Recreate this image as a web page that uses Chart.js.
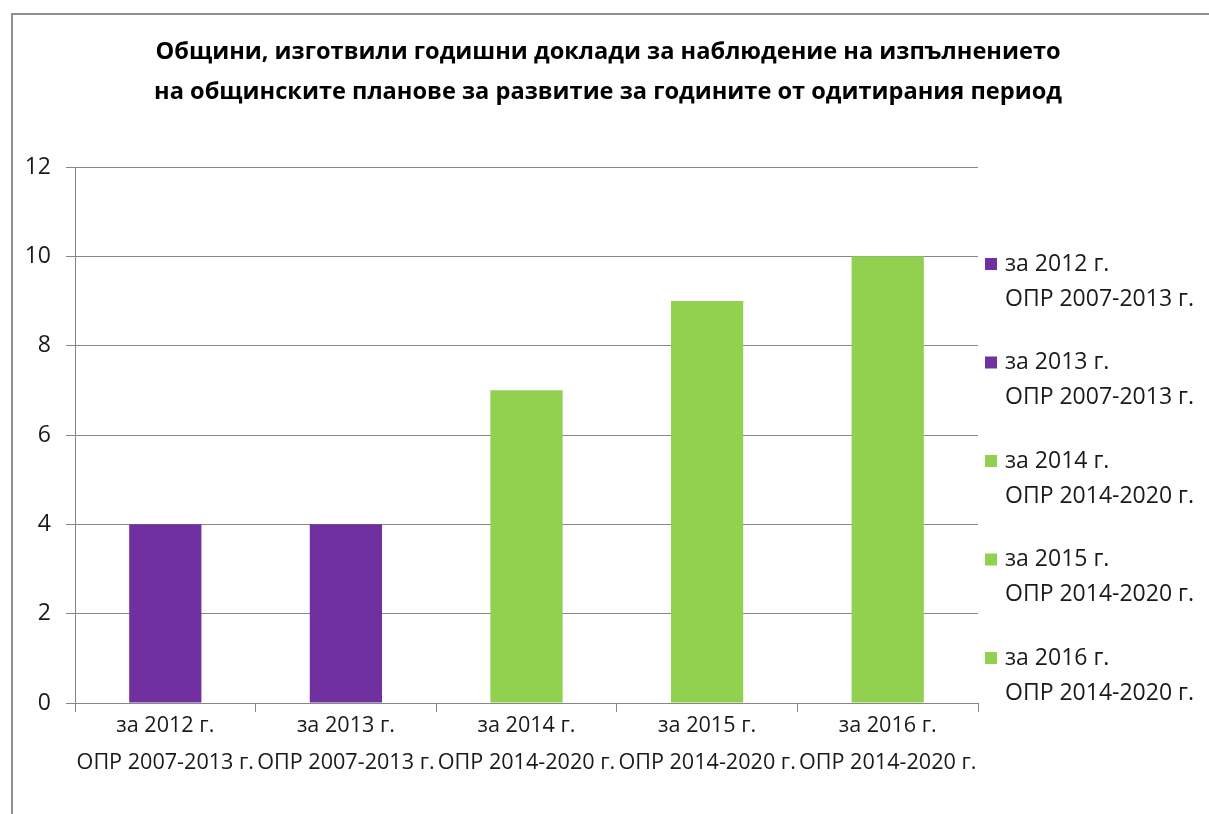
<!DOCTYPE html>
<html>
<head>
<meta charset="utf-8">
<script src="https://cdn.jsdelivr.net/npm/chart.js@4"></script>
<style>
  html, body { margin: 0; padding: 0; background: #fff; }
  #wrap { position: relative; width: 1209px; height: 814px; }
</style>
</head>
<body>
<div id="wrap"><canvas id="myChart" width="1209" height="814"></canvas></div>
<script>
const titleLines = [
  "Общини, изготвили годишни доклади за наблюдение на изпълнението",
  "на общинските планове за развитие за годините от одитирания период"
];
const years = ["за 2012 г.", "за 2013 г.", "за 2014 г.", "за 2015 г.", "за 2016 г."];
const programmes = ["ОПР 2007-2013 г.", "ОПР 2007-2013 г.", "ОПР 2014-2020 г.", "ОПР 2014-2020 г.", "ОПР 2014-2020 г."];
const reports = [4, 4, 7, 9, 10];
const barColors = ["#7030A0", "#7030A0", "#92D050", "#92D050", "#92D050"];
const yTicks = [0, 2, 4, 6, 8, 10, 12];

const FONT = "'Open Sans', Lato, sans-serif";
const TEXT = "#1a1a1a";
const GRID = "#878787";

const labels = years.map((y, i) => [y, programmes[i]]);

// title, frame and the right-hand legend
const decor = {
  id: "decor",
  beforeDraw(chart) {
    const c = chart.ctx;
    c.save();
    c.strokeStyle = "#8f8f8f";
    c.lineWidth = 2;
    c.beginPath();
    c.moveTo(12, 814);
    c.lineTo(12, 14);
    c.lineTo(1209, 14);
    c.stroke();
    c.restore();
  },
  afterDraw(chart) {
    const c = chart.ctx;
    c.save();
    c.fillStyle = "#000";
    c.font = "bold 23.6px " + FONT;
    c.textAlign = "center";
    c.textBaseline = "middle";
    titleLines.forEach((t, i) => c.fillText(t, 608, 52 + i * 40));

    c.font = "23px " + FONT;
    c.textAlign = "left";
    years.forEach((y, i) => {
      const top = 264 + i * 98.5;
      c.fillStyle = barColors[i];
      c.fillRect(985, top - 6, 12, 12);
      c.fillStyle = TEXT;
      c.fillText(y, 1005, top);
      c.fillText(programmes[i], 1005, top + 35);
    });
    c.restore();
  }
};

const ctx = document.getElementById("myChart").getContext("2d");

new Chart(ctx, {
  type: "bar",
  data: {
    labels: labels,
    datasets: [
      {
        label: "Общини",
        data: reports,
        backgroundColor: barColors,
        borderWidth: 0,
        categoryPercentage: 0.4,
        barPercentage: 1,
      },
    ],
  },
  plugins: [decor],
  options: {
    responsive: false,
    animation: false,
    layout: {
      padding: { left: 12, top: 167, right: 231, bottom: 0 },
    },
    plugins: {
      legend: { display: false },
      title: { display: false },
      tooltip: { enabled: false },
    },
    scales: {
      x: {
        afterFit: (s) => { s.height = 111; },
        grid: {
          display: true,
          drawOnChartArea: false,
          offset: true,
          color: GRID,
          tickLength: 9,
        },
        border: { display: true, color: GRID },
        ticks: {
          color: TEXT,
          font: { family: FONT, size: 21.6, lineHeight: "37px" },
          padding: -5,
          maxRotation: 0,
          autoSkip: false,
        },
      },
      y: {
        min: 0,
        max: 12,
        afterFit: (s) => { s.width = 63; },
        afterBuildTicks: (s) => { s.ticks = yTicks.map((v) => ({ value: v })); },
        grid: { color: GRID, tickLength: 9 },
        border: { display: true, color: GRID },
        ticks: {
          color: TEXT,
          font: { family: FONT, size: 23 },
          padding: 15,
        },
      },
    },
  },
});
</script>
</body>
</html>
